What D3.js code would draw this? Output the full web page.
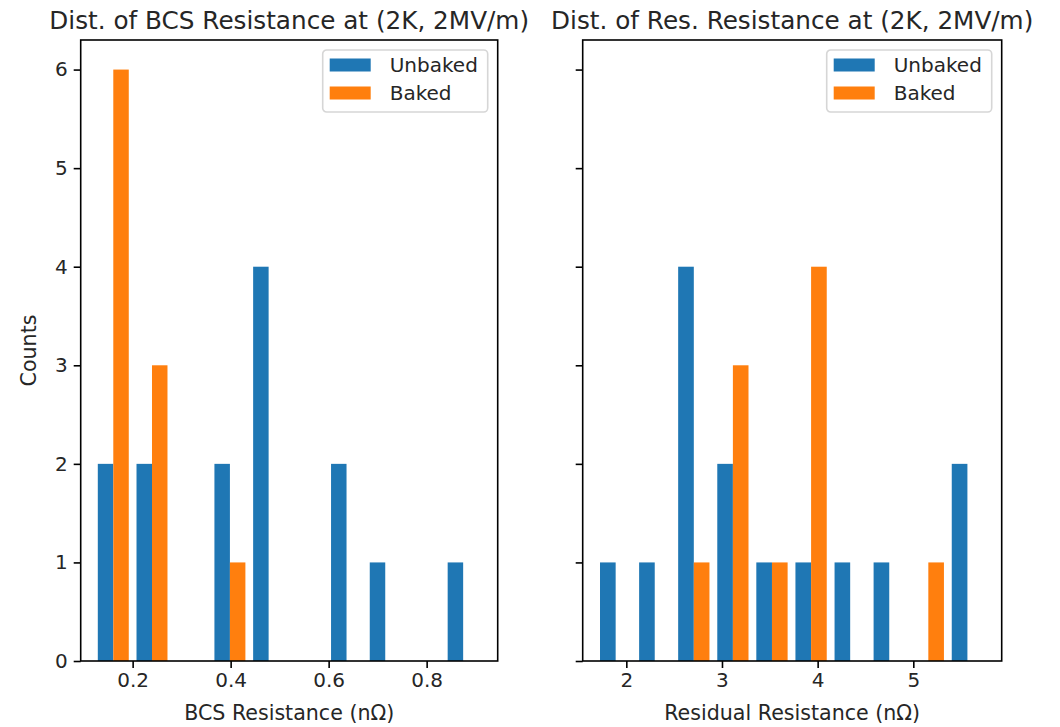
<!DOCTYPE html>
<html>
<head>
<meta charset="utf-8">
<script src="https://cdn.jsdelivr.net/npm/d3@7"></script>
<style>
  html, body { margin: 0; padding: 0; background: #fff; }
  svg { display: block; font-family: "DejaVu Sans", sans-serif; }
</style>
</head>
<body>
<svg id="chart" width="1060" height="727"></svg>
<script>
// Series labels and colours
const seriesNames = ["Unbaked", "Baked"];
const seriesColors = ["#1f77b4", "#ff7f0e"];

// BCS resistance histogram (10 bins)
const bcsBinEdges = [0.121, 0.200, 0.279, 0.359, 0.438, 0.517, 0.597, 0.676, 0.755, 0.835, 0.914];
const bcsUnbaked = [2, 2, 0, 2, 4, 0, 2, 1, 0, 1];
const bcsBaked   = [6, 3, 0, 1, 0, 0, 0, 0, 0, 0];
const bcsTicks = [0.2, 0.4, 0.6, 0.8];
const bcsLimits = [0.094, 0.945];

// Residual resistance histogram (10 bins)
const resBinEdges = [1.684, 2.093, 2.501, 2.910, 3.318, 3.727, 4.136, 4.544, 4.953, 5.361, 5.770];
const resUnbaked = [1, 1, 4, 2, 1, 1, 1, 1, 0, 2];
const resBaked   = [0, 0, 1, 3, 1, 4, 0, 0, 1, 0];
const resTicks = [2, 3, 4, 5];
const resLimits = [1.544, 5.924];

// Shared count axis
const countTicks = [0, 1, 2, 3, 4, 5, 6];
const countLimits = [0, 6.3];

const svg = d3.select("#chart");
const plotTop = 40, plotBottom = 661;

const y = d3.scaleLinear().domain(countLimits).range([plotBottom, plotTop]);

function panel(opts) {
  const g = svg.append("g");
  const x = d3.scaleLinear().domain(opts.limits).range([opts.left, opts.right]);
  const series = [opts.unbaked, opts.baked];

  // bars: two side-by-side bars per bin, each 40% of the bin width
  series.forEach((counts, si) => {
    const bins = counts.map((c, i) => ({ lo: opts.edges[i], hi: opts.edges[i + 1], c }));
    g.append("g").selectAll("rect")
      .data(bins.filter(d => d.c > 0))
      .join("rect")
      .attr("x", d => {
        const w = d.hi - d.lo;
        return x(d.lo + w * 0.1 + si * w * 0.4);
      })
      .attr("width", d => {
        const w = d.hi - d.lo;
        return x(d.lo + w * 0.4) - x(d.lo);
      })
      .attr("y", d => y(d.c))
      .attr("height", d => y(0) - y(d.c))
      .attr("fill", seriesColors[si]);
  });

  // x axis
  const xAxis = g.append("g")
    .attr("transform", `translate(0,${plotBottom})`)
    .call(d3.axisBottom(x).tickValues(opts.ticks).tickFormat(opts.fmt).tickSize(7).tickPadding(5));
  xAxis.select(".domain").remove();
  xAxis.selectAll(".tick line").attr("stroke", "#000").attr("stroke-width", 1.6);
  xAxis.selectAll(".tick text").attr("font-size", 20).attr("fill", "#262626")
    .attr("font-family", "DejaVu Sans");

  // y axis
  const yAxis = g.append("g")
    .attr("transform", `translate(${opts.left},0)`)
    .call(d3.axisLeft(y).tickValues(countTicks).tickFormat(opts.showY ? d3.format("d") : () => "").tickSize(7).tickPadding(6));
  yAxis.select(".domain").remove();
  yAxis.selectAll(".tick line").attr("stroke", "#000").attr("stroke-width", 1.6);
  yAxis.selectAll(".tick text").attr("font-size", 20).attr("fill", "#262626")
    .attr("font-family", "DejaVu Sans");

  // frame
  g.append("rect")
    .attr("x", opts.left).attr("y", plotTop)
    .attr("width", opts.right - opts.left).attr("height", plotBottom - plotTop)
    .attr("fill", "none").attr("stroke", "#000").attr("stroke-width", 1.6);

  // title
  g.append("text")
    .attr("x", (opts.left + opts.right) / 2).attr("y", 29)
    .attr("text-anchor", "middle").attr("font-size", 24.7).attr("fill", "#262626")
    .text(opts.title);

  // x label
  g.append("text")
    .attr("x", (opts.left + opts.right) / 2).attr("y", 720)
    .attr("text-anchor", "middle").attr("font-size", 20.6).attr("fill", "#262626")
    .text(opts.xlabel);

  // legend
  const lgW = 165, lgH = 62;
  const lgX = opts.right - 10 - lgW, lgY = plotTop + 10;
  const lg = g.append("g").attr("transform", `translate(${lgX},${lgY})`);
  lg.append("rect")
    .attr("width", lgW).attr("height", lgH).attr("rx", 4)
    .attr("fill", "#fff").attr("fill-opacity", 0.8)
    .attr("stroke", "#d6d6d6").attr("stroke-width", 1.6);
  seriesNames.forEach((name, i) => {
    const cy = 15 + i * 28;
    lg.append("rect")
      .attr("x", 7).attr("y", cy - 6.5).attr("width", 41).attr("height", 13)
      .attr("fill", seriesColors[i]);
    lg.append("text")
      .attr("x", 67).attr("y", cy + 7).attr("font-size", 20).attr("fill", "#262626")
      .text(name);
  });
}

panel({
  left: 80.7, right: 497.7,
  limits: bcsLimits, edges: bcsBinEdges, unbaked: bcsUnbaked, baked: bcsBaked,
  ticks: bcsTicks, fmt: d3.format(".1f"), showY: true,
  title: "Dist. of BCS Resistance at (2K, 2MV/m)",
  xlabel: "BCS Resistance (nΩ)"
});

panel({
  left: 582.7, right: 1001.7,
  limits: resLimits, edges: resBinEdges, unbaked: resUnbaked, baked: resBaked,
  ticks: resTicks, fmt: d3.format("d"), showY: false,
  title: "Dist. of Res. Resistance at (2K, 2MV/m)",
  xlabel: "Residual Resistance (nΩ)"
});

// shared y label
svg.append("text")
  .attr("transform", "translate(36,350.5) rotate(-90)")
  .attr("text-anchor", "middle").attr("font-size", 20.6).attr("fill", "#262626")
  .text("Counts");
</script>
</body>
</html>
